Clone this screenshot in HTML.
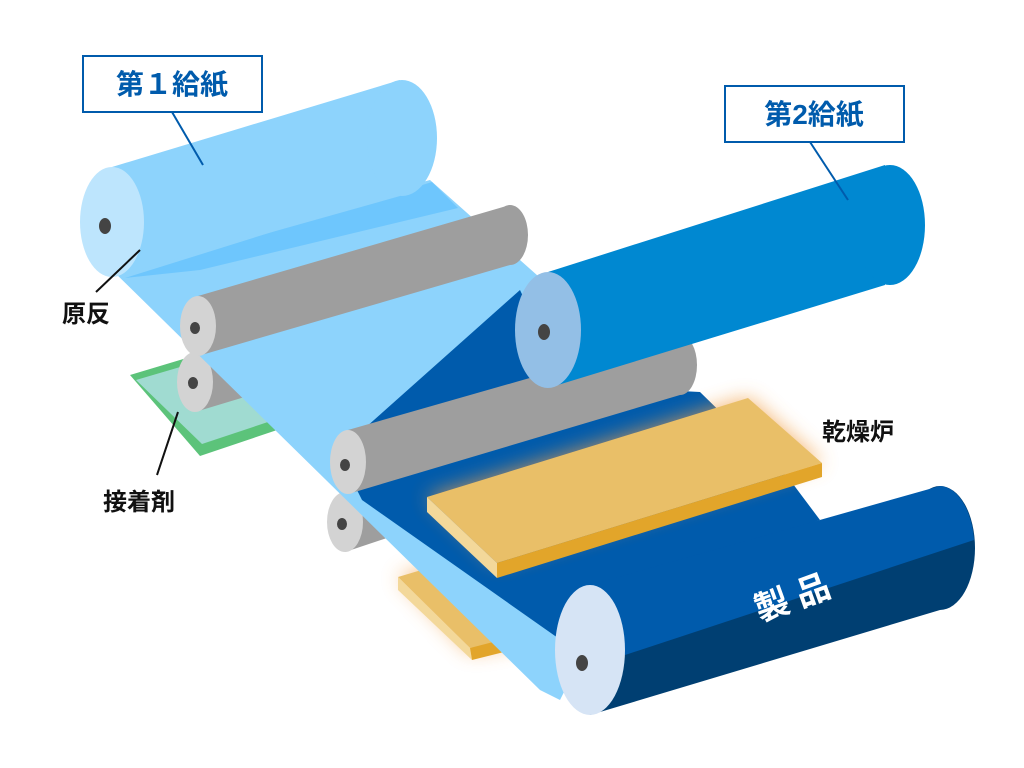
<!DOCTYPE html>
<html><head><meta charset="utf-8"><style>
html,body{margin:0;padding:0;background:#fff;width:1024px;height:768px;overflow:hidden}
svg{display:block}
text{font-family:"Liberation Sans","Noto Sans CJK JP",sans-serif;font-weight:bold}
</style></head><body>
<svg width="1024" height="768" viewBox="0 0 1024 768" xmlns="http://www.w3.org/2000/svg">
<defs>
<filter id="glow" x="-30%" y="-30%" width="160%" height="160%"><feGaussianBlur stdDeviation="10"/></filter>
</defs>
<polygon points="130,375 240,342 292,425 200,456" fill="#5cc37a"/>
<polygon points="136,380 238,350 280,418 202,444" fill="#a0dbd1"/>
<polygon points="195,352 380,296 380,356 195,412" fill="#9e9e9e"/>
<ellipse cx="195" cy="382" rx="18" ry="30" fill="#d3d3d3"/>
<ellipse cx="193" cy="383" rx="5" ry="6" fill="#444"/>
<polygon points="345,492 560,420 560,480 345,552" fill="#9e9e9e"/>
<ellipse cx="345" cy="522" rx="18" ry="30" fill="#d3d3d3"/>
<ellipse cx="342" cy="524" rx="5" ry="6" fill="#444"/>
<polygon points="398,577 470,555 540,640 470,652" fill="#f2a048" filter="url(#glow)" opacity="0.7"/>
<polygon points="398,577 455,560 520,640 470,648" fill="#e9bf68"/>
<polygon points="398,577 470,648 472,660 398,590" fill="#f3d89a"/>
<polygon points="470,648 520,635 520,648 472,660" fill="#e2a52a"/>
<polygon points="110,268 430,180 700,420 600,620 560,700 540,690" fill="#8dd3fc"/>
<polygon points="125,278 432,182 458,208 200,270" fill="#6ec6fd"/>
<polygon points="338,452 520,290 565,385 700,392 790,480 820,520 620,590 575,650 362,500" fill="#005bac"/>
<polygon points="112,167 400,80 400,196 112,277" fill="#8dd3fc"/>
<ellipse cx="402" cy="138" rx="35" ry="58" fill="#8dd3fc"/>
<ellipse cx="112" cy="222" rx="32" ry="55" fill="#bde5fd"/>
<ellipse cx="105" cy="226" rx="6" ry="8" fill="#444"/>
<polygon points="198,296 510,205 510,265 198,356" fill="#9e9e9e"/>
<ellipse cx="510" cy="235" rx="18" ry="30" fill="#9e9e9e"/>
<ellipse cx="198" cy="326" rx="18" ry="30" fill="#d3d3d3"/>
<ellipse cx="195" cy="328" rx="5" ry="6" fill="#444"/>
<polygon points="348,430 680,335 680,395 348,494" fill="#9e9e9e"/>
<ellipse cx="680" cy="365" rx="17" ry="30" fill="#9e9e9e"/>
<ellipse cx="348" cy="462" rx="18" ry="32" fill="#d3d3d3"/>
<ellipse cx="345" cy="465" rx="5" ry="6" fill="#444"/>
<polygon points="548,272 885,165 885,285 548,388" fill="#0088d1"/>
<ellipse cx="890" cy="225" rx="35" ry="60" fill="#0088d1"/>
<ellipse cx="548" cy="330" rx="33" ry="58" fill="#93bfe6"/>
<ellipse cx="544" cy="332" rx="6" ry="8" fill="#444"/>
<polygon points="427,497 748,398 822,463 497,563" fill="#f2a048" filter="url(#glow)" opacity="0.8"/>
<polygon points="427,497 748,398 822,463 497,563" fill="#e9bf68"/>
<polygon points="427,497 497,563 497,578 427,512" fill="#f3d89a"/>
<polygon points="497,563 822,463 822,477 497,578" fill="#e2a52a"/>
<ellipse cx="940" cy="548" rx="35" ry="62" fill="#003f72"/>
<polygon points="590,600 940,500 940,610 590,715" fill="#003f72"/>
<path d="M590,585 L940,486 A35,62 0 0 1 974,540 L610,660 L590,660 Z" fill="#005bac"/>
<ellipse cx="590" cy="650" rx="35" ry="65" fill="#d6e4f5"/>
<ellipse cx="582" cy="663" rx="6" ry="8" fill="#444"/>
<text x="0" y="0" font-size="34" fill="#fff" transform="translate(760,622) rotate(-20)">製 品</text>
<rect x="83" y="56" width="179" height="56" fill="#fff" stroke="#005bac" stroke-width="2"/>
<text x="172" y="94" font-size="28" fill="#005bac" text-anchor="middle">第１給紙</text>
<line x1="172" y1="112" x2="203" y2="165" stroke="#005bac" stroke-width="2"/>
<rect x="725" y="86" width="179" height="56" fill="#fff" stroke="#005bac" stroke-width="2"/>
<text x="814" y="124" font-size="28" fill="#005bac" text-anchor="middle">第2給紙</text>
<line x1="810" y1="142" x2="848" y2="200" stroke="#005bac" stroke-width="2"/>
<text x="62" y="322" font-size="24" fill="#111">原反</text>
<line x1="96" y1="292" x2="140" y2="250" stroke="#111" stroke-width="2"/>
<text x="103" y="510" font-size="24" fill="#111">接着剤</text>
<line x1="157" y1="475" x2="178" y2="412" stroke="#111" stroke-width="2"/>
<text x="822" y="440" font-size="24" fill="#111">乾燥炉</text>
</svg>
</body></html>
